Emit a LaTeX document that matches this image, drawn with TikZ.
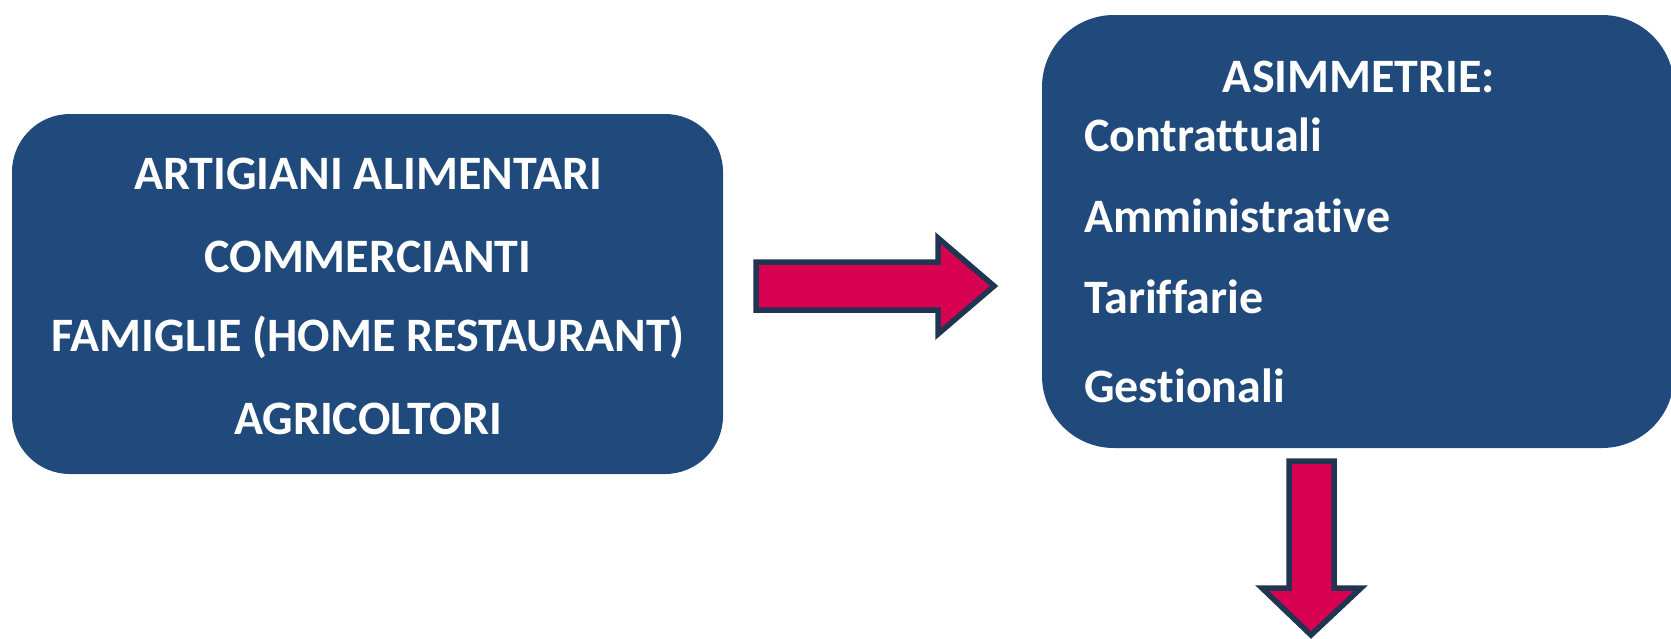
\documentclass[tikz,border=0pt]{standalone}
\usepackage{fontspec}
\setmainfont{Carlito}[Ligatures={NoCommon,NoRare,NoDiscretionary}]
\definecolor{boxblue}{HTML}{214A7C}
\definecolor{arrowred}{HTML}{D80050}
\definecolor{arrowline}{HTML}{1F3552}
\begin{document}
\begin{tikzpicture}[x=1pt,y=-1pt,
  bluebox/.style={fill=boxblue,draw=none,rounded corners=#1},
  lbl/.style={text=white,font=\fontsize{48}{58}\selectfont\bfseries,inner sep=0pt,anchor=base},
  fatarrow/.style={fill=arrowred,draw=arrowline,line width=5.5pt,line join=miter}]
\useasboundingbox (0,0) rectangle (1671,638);
% left box
\fill[bluebox=58pt] (12,114) rectangle (723,474);
\node[lbl] (a1) at (368,189) {ARTIGIANI ALIMENTARI};
\node[lbl] (a2) at (368,272) {COMMERCIANTI};
\node[lbl] (a3) at (368,351) {FAMIGLIE (HOME RESTAURANT)};
\node[lbl] (a4) at (368,434) {AGRICOLTORI};
% right box
\begin{scope}
\clip (0,0) rectangle (1671,638);
\fill[bluebox=72pt] (1042,15) rectangle (1674,448);
\end{scope}
\node[lbl] (b0) at (1359,92) {ASIMMETRIE:};
\node[lbl,anchor=base west] (b1) at (1084,151) {Contrattuali};
\node[lbl,anchor=base west] (b2) at (1084,232) {Amministrative};
\node[lbl,anchor=base west] (b3) at (1084,313) {Tariffarie};
\node[lbl,anchor=base west] (b4) at (1084,402) {Gestionali};
% right arrow
\draw[fatarrow] (756,262) -- (938,262) -- (938,238) -- (994,286) -- (938,334) -- (938,310) -- (756,310) -- cycle;
% down arrow
\draw[fatarrow] (1289,461) -- (1334,461) -- (1334,588) -- (1361,588) -- (1311,635) -- (1262,588) -- (1289,588) -- cycle;
\end{tikzpicture}
\end{document}
